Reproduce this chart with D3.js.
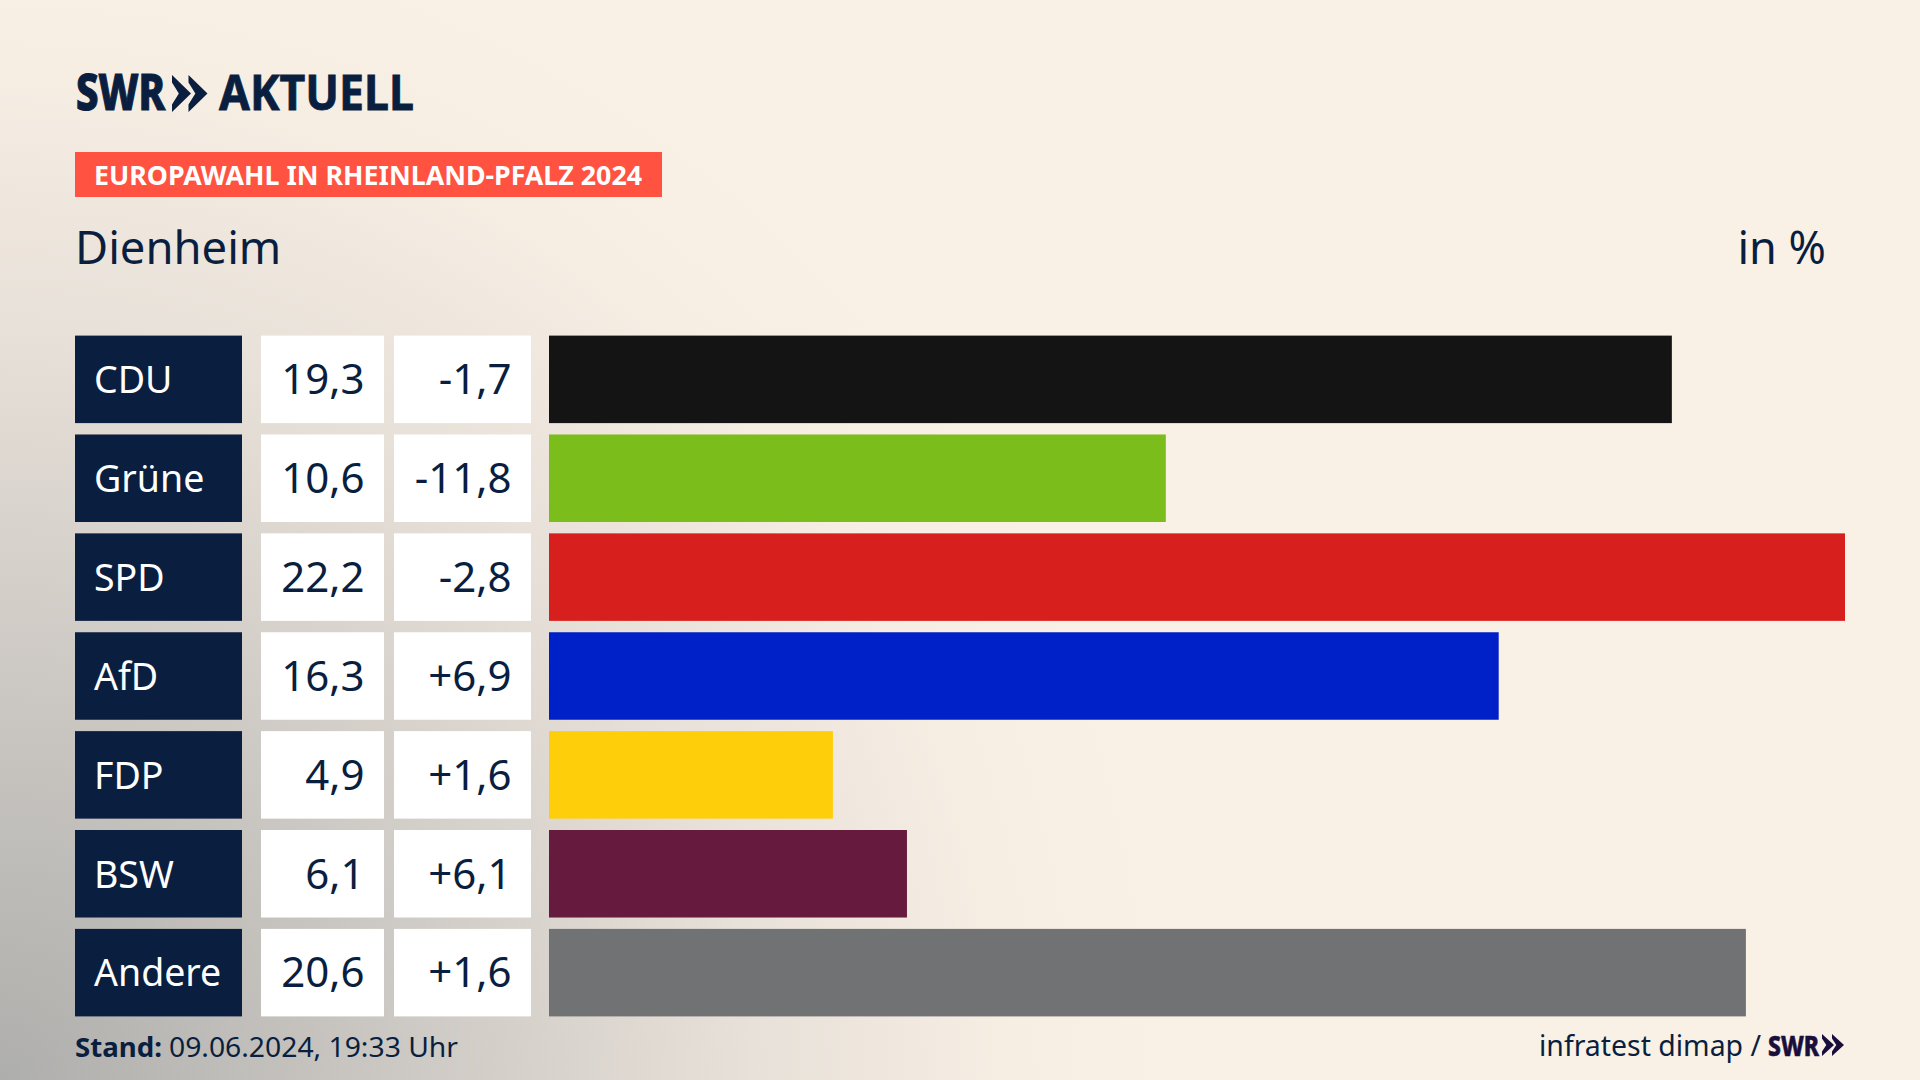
<!DOCTYPE html>
<html lang="de">
<head>
<meta charset="utf-8">
<title>Europawahl in Rheinland-Pfalz 2024 – Dienheim</title>
<script src="https://cdn.jsdelivr.net/npm/d3@7/dist/d3.min.js"></script>
<style>
html,body{margin:0;padding:0;width:1920px;height:1080px;overflow:hidden;}
body{background:#faf1e6 radial-gradient(ellipse 1180px 1180px at 0 1080px,#aeaeac 0,#cdc9c4 35%,#e8e1d9 64%,#f6ede3 85%,#faf1e6 100%);}
svg{display:block;font-family:"Noto Sans",sans-serif;}
</style>
</head>
<body>
<script>
const parties = ["CDU","Grüne","SPD","AfD","FDP","BSW","Andere"];
const shareLabels = ["19,3","10,6","22,2","16,3","4,9","6,1","20,6"];
const changeLabels = ["-1,7","-11,8","-2,8","+6,9","+1,6","+6,1","+1,6"];
const barValues = [19.26,10.58,22.23,16.29,4.87,6.14,20.53];
const barColors = ["#141414","#7bbd1a","#d7201e","#0021c7","#ffce0a","#661a3e","#717273"];
const navy = "#0a1f3f";

const svg = d3.select("body").append("svg").attr("width",1920).attr("height",1080);

const y = d3.scaleBand().domain(parties).range([335.6,1016.4]).paddingInner(0.115);
const x = d3.scaleLinear().domain([0,22.23]).range([549,1845]);

const rows = svg.selectAll("g.row").data(parties).join("g").attr("class","row")
  .attr("transform",d=>`translate(0,${y(d)})`);

const h = y.bandwidth();
rows.append("rect").attr("x",75).attr("width",167).attr("height",h).attr("fill",navy);
rows.append("rect").attr("x",261).attr("width",123).attr("height",h).attr("fill","#fff");
rows.append("rect").attr("x",394).attr("width",137).attr("height",h).attr("fill","#fff");
rows.append("rect").attr("x",x(0)).attr("height",h)
  .attr("width",(d,i)=>x(barValues[i])-x(0)).attr("fill",(d,i)=>barColors[i]);

rows.append("text").attr("x",94).attr("y",57.6).attr("font-size",37.5).attr("fill","#fff").text(d=>d);
rows.append("text").attr("x",364.5).attr("y",58.6).attr("font-size",42).attr("text-anchor","end").attr("fill",navy)
  .text((d,i)=>shareLabels[i]);
rows.append("text").attr("x",511.5).attr("y",58.6).attr("font-size",42).attr("text-anchor","end").attr("fill",navy)
  .text((d,i)=>changeLabels[i]);

// Logo
svg.append("text").attr("x",76).attr("y",110).attr("font-size",49).attr("font-weight",800).attr("fill",navy)
  .attr("stroke",navy).attr("stroke-width",1.2)
  .attr("textLength",89).attr("lengthAdjust","spacingAndGlyphs").text("SWR");
svg.append("text").attr("x",219).attr("y",110).attr("font-size",49).attr("font-weight",700).attr("fill",navy)
  .attr("stroke",navy).attr("stroke-width",0.8)
  .attr("textLength",195).attr("lengthAdjust","spacingAndGlyphs").text("AKTUELL");
const chevron = (x0,y0,w,hh)=>`M${x0},${y0}L${x0+w},${y0+hh/2}L${x0},${y0+hh}L${x0},${y0+hh*0.8}L${x0+w*0.36},${y0+hh/2}L${x0},${y0+hh*0.2}Z`;
svg.append("path").attr("d",chevron(172,75,19,37)).attr("fill",navy);
svg.append("path").attr("d",chevron(188.5,75,19,37)).attr("fill",navy);

// Tag
svg.append("rect").attr("x",75).attr("y",152).attr("width",587).attr("height",45).attr("fill","#ff5240");
svg.append("text").attr("x",94).attr("y",185).attr("font-size",27).attr("font-weight",700).attr("fill","#fff")
  .attr("textLength",548).attr("lengthAdjust","spacingAndGlyphs").text("EUROPAWAHL IN RHEINLAND-PFALZ 2024");

// Headline
svg.append("text").attr("x",75).attr("y",264).attr("font-size",45.4).attr("fill",navy).text("Dienheim");
svg.append("text").attr("x",1826).attr("y",264).attr("font-size",45).attr("text-anchor","end").attr("fill",navy).text("in %");

// Footer
svg.append("text").attr("x",75).attr("y",1057).attr("font-size",27).attr("font-weight",700).attr("fill",navy)
  .attr("textLength",87).attr("lengthAdjust","spacingAndGlyphs").text("Stand:");
svg.append("text").attr("x",169).attr("y",1057).attr("font-size",27).attr("fill",navy)
  .attr("textLength",289).attr("lengthAdjust","spacingAndGlyphs").text("09.06.2024, 19:33 Uhr");
svg.append("text").attr("x",1539).attr("y",1056).attr("font-size",28.5).attr("fill",navy)
  .attr("textLength",222).attr("lengthAdjust","spacingAndGlyphs").text("infratest dimap /");
svg.append("text").attr("x",1768).attr("y",1056).attr("font-size",28).attr("font-weight",800).attr("fill","#1a0f3c")
  .attr("stroke","#1a0f3c").attr("stroke-width",0.6)
  .attr("textLength",51).attr("lengthAdjust","spacingAndGlyphs").text("SWR");
svg.append("path").attr("d",chevron(1822,1034,12,22)).attr("fill","#1a0f3c");
svg.append("path").attr("d",chevron(1832,1034,12,22)).attr("fill","#1a0f3c");
</script>
</body>
</html>
